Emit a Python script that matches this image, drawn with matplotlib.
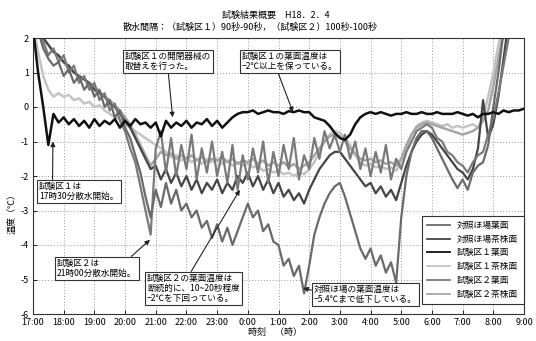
import numpy as np
import matplotlib
matplotlib.use("Agg")
import matplotlib.pyplot as plt

plt.rcParams['font.family'] = ['Noto Sans CJK JP', 'DejaVu Sans']

# ---- data (10-minute readings, 17:00 -> 9:00) ----
step_min = 10
tick_labels = ["17:00", "18:00", "19:00", "20:00", "21:00", "22:00", "23:00", "0:00",
               "1:00", "2:00", "3:00", "4:00", "5:00", "6:00", "7:00", "8:00", "9:00"]

series_names = ["対照ほ場葉面", "対照ほ場茶株面", "試験区１葉面",
                "試験区１茶株面", "試験区２葉面", "試験区２茶株面"]

control_leaf = [
    2.4, 2.2, 1.7, 1.4, 1.2, 1.3,
    0.9, 1.1, 0.7, 0.9, 0.5, 0.7,
    0.3, 0.5, 0.0, 0.2, -0.3, -0.1,
    -0.6, -0.9, -1.4, -1.9, -2.6, -3.2,
    -2.4, -2.9, -2.2, -2.8, -2.4, -3.0,
    -2.8, -3.2, -3.0, -3.5, -3.3, -3.8,
    -3.4, -3.9, -3.5, -4.0, -3.6, -3.2,
    -2.8, -3.2, -3.0, -3.6, -3.4, -3.9,
    -4.0, -4.6, -4.4, -4.9, -4.6, -5.4,
    -4.6, -3.7, -3.2, -2.8, -2.5, -2.3,
    -2.2, -2.6, -3.1, -3.6, -4.1, -4.4,
    -4.1, -4.6, -4.3, -4.8, -4.5, -5.1,
    -3.2, -2.0, -1.3, -0.9, -0.7, -0.7,
    -0.9, -1.2, -1.5, -1.8, -2.1, -2.35,
    -2.1, -2.4, -1.9, -1.7, -1.6, -1.1,
    0.0, 1.0, 2.2, 3.0, 3.0, 3.0,
    3.0]

control_stock = [
    2.4, 2.3, 2.0, 1.8, 1.6, 1.5,
    1.3, 1.2, 1.0, 0.9, 0.8, 0.7,
    0.5, 0.4, 0.3, 0.1, 0.0, -0.2,
    -0.4, -0.6, -0.9, -1.2, -1.5, -1.8,
    -1.7, -2.1, -1.8, -2.2, -1.9, -2.3,
    -2.0, -2.4, -2.1, -2.5, -2.2, -2.4,
    -2.1, -2.5, -2.2, -2.4, -2.0, -2.2,
    -1.9, -2.3, -2.0, -2.4, -2.1, -2.5,
    -2.2, -2.6, -2.4, -2.7, -2.5, -2.8,
    -2.4, -2.1, -1.8, -1.6, -1.4, -1.3,
    -1.3, -1.5, -1.7, -1.9, -2.1, -2.3,
    -2.2, -2.5, -2.3, -2.6, -2.4, -2.7,
    -2.2, -1.7, -1.3, -1.0, -0.8, -0.7,
    -0.8, -1.0, -1.2, -1.4, -1.6, -1.8,
    -1.9, -2.1, -1.8, -1.2, 0.2, -0.9,
    -0.5, 0.3, 1.4, 2.5, 3.0, 3.0,
    3.0]

plot1_leaf = [
    2.3, 1.0, 0.0, -1.1, -0.2, -0.45,
    -0.3, -0.5, -0.35, -0.55, -0.4, -0.6,
    -0.35, -0.55, -0.4, -0.5, -0.35, -0.6,
    -0.4, -0.55, -0.35, -0.5, -0.45, -0.6,
    -0.45, -0.85, -0.4, -0.6, -0.45, -0.55,
    -0.4, -0.6, -0.45, -0.5, -0.35, -0.55,
    -0.4, -0.6, -0.45, -0.3, -0.2, -0.15,
    -0.15, -0.1, -0.2, -0.15, -0.1, -0.15,
    -0.15, -0.2, -0.12, -0.15, -0.1, -0.15,
    -0.15, -0.3, -0.35, -0.4, -0.55, -0.75,
    -0.9, -0.95, -0.8, -0.5, -0.3, -0.2,
    -0.15, -0.2, -0.15, -0.2, -0.25, -0.2,
    -0.2, -0.15, -0.2, -0.2, -0.15, -0.2,
    -0.2, -0.15, -0.2, -0.2, -0.2, -0.15,
    -0.2, -0.25, -0.2, -0.3, -0.2, -0.2,
    -0.15, -0.2, -0.1, -0.15, -0.1, -0.1,
    -0.05]

plot1_stock = [
    2.4, 1.6, 0.9, 0.5, 0.3, 0.4,
    0.3, 0.35, 0.2, 0.25, 0.1, 0.15,
    0.0, 0.05, -0.1, -0.2, -0.3, -0.35,
    -0.5, -0.6, -0.7, -0.8, -0.9, -1.0,
    -1.1, -1.2, -1.3, -1.45, -1.4, -1.55,
    -1.45, -1.6, -1.5, -1.65, -1.5, -1.6,
    -1.5, -1.65, -1.55, -1.7, -1.6, -1.7,
    -1.65, -1.75, -1.7, -1.85, -1.8, -1.9,
    -1.85, -1.95, -1.9, -2.0, -1.9, -1.95,
    -1.8, -1.6, -1.3, -1.0, -0.8, -0.7,
    -0.75, -0.9, -1.1, -1.4, -1.6, -1.7,
    -1.65, -1.75, -1.7, -1.8, -1.75, -1.85,
    -1.6, -1.2, -0.8, -0.55, -0.45, -0.4,
    -0.45, -0.5, -0.55, -0.5, -0.6, -0.55,
    -0.6, -0.55, -0.5, -0.6, -0.3, 0.3,
    1.0, 1.8, 2.5, 3.0, 3.0, 3.0,
    3.0]

plot2_leaf = [
    2.4, 2.2, 1.9, 1.5, 1.7, 1.3,
    1.5, 1.0, 1.2, 0.7, 0.9, 0.5,
    0.7, 0.2, 0.4, -0.1, 0.1, -0.4,
    -0.7, -1.2, -1.6, -2.3, -3.0, -3.7,
    -1.2, -0.7, -1.9, -0.9, -2.0, -1.1,
    -1.8, -0.8, -2.1, -1.2, -1.9, -1.0,
    -2.0, -1.3, -2.2, -1.1, -2.4, -1.4,
    -2.1, -1.2, -1.9, -1.0, -2.2, -1.3,
    -2.0, -1.1, -1.8, -0.9, -2.1, -1.4,
    -1.8, -0.9, -1.5, -0.7, -1.2, -0.8,
    -1.3, -0.8, -1.5, -1.0, -1.8, -1.2,
    -2.0, -1.3, -1.9, -1.1, -2.1, -1.5,
    -1.8, -1.3, -1.0, -0.7, -0.6, -0.5,
    -0.6, -0.9, -1.0, -1.3, -1.4, -1.6,
    -1.7, -1.9, -1.6, -1.4, -1.3, -0.8,
    -0.3, 0.4, 1.2, 2.0, 3.0, 3.0,
    3.0]

plot2_stock = [
    2.4, 2.2, 2.0, 1.8, 1.6, 1.45,
    1.3, 1.15, 1.0, 0.9, 0.8, 0.7,
    0.6, 0.45, 0.3, 0.2, 0.05, -0.1,
    -0.3, -0.5, -0.8, -1.1, -1.4, -1.7,
    -1.5, -1.3, -1.4, -1.35, -1.5, -1.4,
    -1.5, -1.4, -1.55, -1.45, -1.6, -1.5,
    -1.55, -1.45, -1.6, -1.5, -1.65, -1.55,
    -1.6, -1.5, -1.65, -1.55, -1.7, -1.6,
    -1.7, -1.6, -1.75, -1.65, -1.8, -1.7,
    -1.6, -1.4, -1.2, -1.0, -0.85, -0.8,
    -0.85, -1.0, -1.2, -1.35, -1.5, -1.55,
    -1.5, -1.6, -1.55, -1.65, -1.6, -1.7,
    -1.5, -1.1, -0.8, -0.6, -0.5, -0.45,
    -0.5, -0.55, -0.6, -0.65, -0.7, -0.75,
    -0.8, -0.75, -0.7, -0.6, -0.4, -0.1,
    0.6, 1.4, 2.2, 3.0, 3.0, 3.0,
    3.0]

series_values = [control_leaf, control_stock, plot1_leaf,
                 plot1_stock, plot2_leaf, plot2_stock]
series_colors = ["#6a6a6a", "#454545", "#111111", "#c4c4c4", "#7a7a7a", "#a6a6a6"]
series_lw = [1.6, 1.6, 1.8, 1.8, 1.6, 1.8]
draw_order = [3, 5, 1, 4, 0, 2]

# ---- figure ----
W, H = 536, 341
fig = plt.figure(figsize=(W / 100, H / 100), dpi=100)
L, R, T, B = 33, 524, 38, 314
ax = fig.add_axes([L / W, 1 - B / H, (R - L) / W, (B - T) / H])

hours = np.arange(len(control_leaf)) * step_min / 60.0
for k in draw_order:
    ax.plot(hours, series_values[k], color=series_colors[k], lw=series_lw[k],
            label=series_names[k], zorder=2 + (k == 2))

ax.set_xlim(0, len(tick_labels) - 1)
ax.set_ylim(-6, 2)
ax.set_xticks(range(len(tick_labels)))
ax.set_xticklabels(tick_labels, fontsize=6.5)
ax.set_yticks(range(-6, 3))
ax.set_yticklabels([str(v) for v in range(-6, 3)], fontsize=6.5)
ax.tick_params(direction='in', length=3, width=0.6, pad=3)
ax.grid(True, linestyle=(0, (1, 2)), color='#999999', lw=0.7)
for s in ax.spines.values():
    s.set_linewidth(0.8)
    s.set_color('#333333')

# legend (in requested order)
handles, labels = ax.get_legend_handles_labels()
order = [labels.index(n) for n in series_names]
leg = ax.legend([handles[i] for i in order], [labels[i] for i in order],
                loc='lower right', bbox_to_anchor=(1.008, 0.02), fontsize=6.3,
                handlelength=2.6, labelspacing=0.55, borderpad=0.6,
                fancybox=False, framealpha=1, edgecolor='#333333')
leg.get_frame().set_linewidth(0.8)
for line in leg.get_lines():
    line.set_linewidth(1.3)

# titles and axis labels
fig.text(276 / W, 1 - 15 / H, "試験結果概要　H18．2．4", ha='center', va='center', fontsize=6.5)
fig.text(250 / W, 1 - 27 / H, "散水間隔：（試験区１）90秒-90秒，（試験区２）100秒-100秒",
         ha='center', va='center', fontsize=6.5)
fig.text(275 / W, 1 - 332 / H, "時刻　（時）", ha='center', va='center', fontsize=6.5)
fig.text(12 / W, 1 - 212 / H, "温度（℃）", ha='center', va='center', rotation=90, fontsize=6.5)

# annotations
box = dict(boxstyle='square,pad=0.25', fc='white', ec='#333333', lw=0.8)

def note(text, xy, box_px, relpos):
    ax.annotate(text, xy=xy, xycoords='data',
                xytext=(box_px[0], H - box_px[1]), textcoords='figure pixels',
                ha='left', va='top', fontsize=6.2, linespacing=1.15, bbox=box,
                arrowprops=dict(arrowstyle='-|>', color='#222222', lw=0.8,
                                mutation_scale=7, shrinkA=0, shrinkB=0, relpos=relpos),
                zorder=10)

note("試験区１の開閉器械の\n取替えを行った。", (4.55, -0.3), (125, 52), (0.5, 0))
note("試験区１の葉面温度は\n−2℃以上を保っている。", (8.47, -0.15), (242, 52), (0.37, 0))
note("試験区１は\n17時30分散水開始。", (0.65, -1.0), (39, 182), (0.17, 1))
note("試験区２は\n21時00分散水開始。", (3.81, -3.85), (57, 259), (0.9, 1))
note("試験区２の葉面温度は\n断続的に、10~20秒程度\n−2℃を下回っている。", (6.74, -2.4),
     (147, 274), (0.46, 1))
note("対照ほ場の葉面温度は\n−5.4℃まで低下している。", (8.8, -5.25), (314, 285), (0.0, 0.7))

fig.savefig("out.png", dpi=100)
